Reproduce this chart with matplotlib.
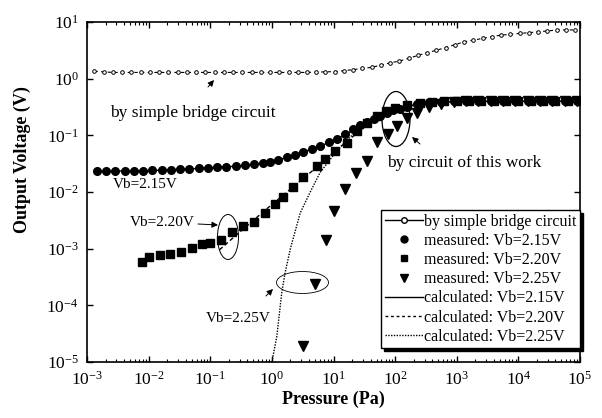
import numpy as np
import matplotlib
matplotlib.use("Agg")
import matplotlib.pyplot as plt
from matplotlib.patches import Ellipse
from matplotlib.lines import Line2D

plt.rcParams['font.family'] = ['Liberation Serif', 'DejaVu Serif']
plt.rcParams['mathtext.fontset'] = 'custom'
plt.rcParams['mathtext.rm'] = 'Liberation Serif'
plt.rcParams['mathtext.it'] = 'Liberation Serif:italic'
plt.rcParams['mathtext.bf'] = 'Liberation Serif:bold'

# ---- data (log10 values) ----
bridge_logp = [-2.88, -2.73, -2.58, -2.43, -2.28, -2.13, -1.98, -1.83, -1.68, -1.53, -1.38, -1.23,
               -1.08, -0.93, -0.78, -0.63, -0.48, -0.33, -0.18, -0.03, 0.12, 0.27, 0.42, 0.57,
               0.72, 0.87, 1.02, 1.17, 1.32, 1.47, 1.62, 1.77, 1.92, 2.07, 2.22, 2.37, 2.52,
               2.67, 2.82, 2.97, 3.12, 3.27, 3.42, 3.57, 3.72, 3.87, 4.02, 4.17, 4.32, 4.47,
               4.62, 4.77, 4.92]
bridge_logv = [0.13, 0.12, 0.11, 0.11, 0.11, 0.11, 0.11, 0.11, 0.11, 0.11, 0.11, 0.11,
               0.11, 0.11, 0.11, 0.11, 0.11, 0.11, 0.11, 0.11, 0.11, 0.11, 0.11, 0.11,
               0.115, 0.12, 0.125, 0.14, 0.16, 0.18, 0.20, 0.24, 0.28, 0.31, 0.36, 0.41, 0.46,
               0.50, 0.55, 0.60, 0.65, 0.68, 0.71, 0.74, 0.77, 0.78, 0.80, 0.81, 0.83, 0.84,
               0.86, 0.86, 0.86]

m215_logp = [-2.84, -2.69, -2.54, -2.39, -2.24, -2.09, -1.94, -1.79, -1.64, -1.49, -1.34, -1.19,
             -1.04, -0.89, -0.74, -0.59, -0.44, -0.29, -0.14, -0.03, 0.10, 0.24, 0.38, 0.51,
             0.65, 0.78, 0.92, 1.05, 1.18, 1.32, 1.43, 1.54, 1.65, 1.76, 1.87, 1.97, 2.08,
             2.19, 2.35, 2.55, 2.75, 2.95, 3.15, 3.35, 3.55, 3.75, 3.95, 4.15, 4.35, 4.55, 4.75, 4.95]
m215_logv = [-1.635, -1.635, -1.635, -1.63, -1.63, -1.625, -1.62, -1.615, -1.61, -1.60, -1.595, -1.585,
             -1.575, -1.565, -1.55, -1.54, -1.53, -1.51, -1.49, -1.47, -1.43, -1.39, -1.34, -1.29,
             -1.24, -1.18, -1.12, -1.06, -0.97, -0.88, -0.82, -0.77, -0.71, -0.65, -0.60, -0.56, -0.53,
             -0.50, -0.45, -0.42, -0.41, -0.40, -0.40, -0.40, -0.40, -0.40, -0.40, -0.40, -0.40, -0.40, -0.40, -0.40]

m220_logp = [-2.11, -1.99, -1.82, -1.65, -1.47, -1.30, -1.14, -1.00, -0.82, -0.65, -0.47, -0.29,
             -0.11, 0.05, 0.18, 0.34, 0.51, 0.73, 0.86, 1.03, 1.22, 1.38, 1.55, 1.70, 1.85, 2.0,
             2.2, 2.4, 2.6, 2.8, 3.0, 3.2, 3.4, 3.6, 3.8, 4.0, 4.2, 4.4, 4.6, 4.8, 5.0]
m220_logv = [-3.23, -3.15, -3.12, -3.09, -3.06, -2.98, -2.92, -2.90, -2.84, -2.70, -2.60, -2.53,
             -2.37, -2.22, -2.08, -1.91, -1.74, -1.54, -1.42, -1.28, -1.13, -0.93, -0.78, -0.65, -0.57, -0.52,
             -0.47, -0.43, -0.41, -0.40, -0.40, -0.40, -0.40, -0.40, -0.40, -0.40, -0.40, -0.40, -0.40, -0.40, -0.40]

m225_logp = [0.51, 0.70, 0.88, 1.01, 1.19, 1.37, 1.54, 1.71, 1.89, 2.03, 2.19, 2.36,
             2.55, 2.75, 2.95, 3.15, 3.35, 3.55, 3.75, 3.95, 4.15, 4.35, 4.55, 4.75, 4.95]
m225_logv = [-4.72, -3.63, -2.84, -2.34, -1.95, -1.67, -1.46, -1.12, -0.97, -0.83, -0.69, -0.61,
             -0.50, -0.44, -0.41, -0.40, -0.40, -0.40, -0.40, -0.40, -0.40, -0.40, -0.40, -0.40, -0.40]

c215_logp = [-2.84, -2.0, -1.2, -0.5, 0.0, 0.5, 1.0, 1.3, 1.6, 1.9, 2.2, 2.6, 3.0, 4.0, 5.0]
c215_logv = [-1.635, -1.625, -1.585, -1.54, -1.47, -1.30, -1.10, -0.92, -0.74, -0.58, -0.49, -0.42, -0.40, -0.40, -0.40]

c220_logp = [-0.85, -0.6, -0.3, 0.0, 0.3, 0.6, 0.9, 1.2, 1.5, 1.8, 2.1, 2.5, 3.0, 4.0, 5.0]
c220_logv = [-3.02, -2.78, -2.50, -2.22, -1.95, -1.68, -1.40, -1.12, -0.86, -0.64, -0.50, -0.43, -0.40, -0.40, -0.40]

c225_logp = [0.0, 0.08, 0.16, 0.21, 0.3, 0.46, 0.6, 0.78, 1.05, 1.22, 1.5, 1.8, 2.1, 2.5, 3.0, 4.0, 5.0]
c225_logv = [-5.0, -4.55, -3.78, -3.45, -3.0, -2.37, -2.05, -1.66, -1.28, -1.08, -0.80, -0.60, -0.50, -0.43, -0.40, -0.40, -0.40]

x_ticks = [1e-3, 1e-2, 1e-1, 1e0, 1e1, 1e2, 1e3, 1e4, 1e5]
y_ticks = [1e-5, 1e-4, 1e-3, 1e-2, 1e-1, 1e0, 1e1]

def p10(a):
    return np.power(10.0, np.asarray(a))

fig = plt.figure(figsize=(6.02, 4.18), dpi=100)
ax = fig.add_axes([87/602, (418-362)/418, 493/602, 340/418])

ax.plot(p10(bridge_logp), p10(bridge_logv), color='k', lw=0.8, ls=(0, (3, 3)),
        marker='o', ms=2.6, mfc='white', mec='k', mew=0.7)
ax.plot(p10(c215_logp), p10(c215_logv), color='k', lw=1.0, ls='-')
ax.plot(p10(c220_logp), p10(c220_logv), color='k', lw=1.0, ls=(0, (3, 2)))
ax.plot(p10(c225_logp), p10(c225_logv), color='k', lw=1.0, ls=(0, (1, 1)))
ax.plot(p10(m215_logp), p10(m215_logv), ls='none', marker='o', ms=5.5, color='k')
ax.plot(p10(m220_logp), p10(m220_logv), ls='none', marker='s', ms=5.5, color='k')
ax.plot(p10(m225_logp), p10(m225_logv), ls='none', marker='v', ms=6.5, color='k')

ax.set_xscale('log')
ax.set_yscale('log')
ax.set_xlim(1e-3, 1e5)
ax.set_ylim(1e-5, 1e1)
ax.set_xticks(x_ticks)
ax.set_yticks(y_ticks)
ax.yaxis.set_minor_locator(matplotlib.ticker.NullLocator())
ax.tick_params(which='both', direction='in', top=True, right=True, labelsize=12.5, pad=6)
ax.tick_params(which='major', length=4, width=1)
ax.tick_params(which='minor', length=2, width=0.8)
for s in ax.spines.values():
    s.set_linewidth(1.2)

ax.set_xlabel('Pressure (Pa)', fontsize=13, fontweight='bold', labelpad=2)
fig.text(22/602, 1 - 160/418, 'Output Voltage (V)', fontsize=13, fontweight='bold',
         rotation=90, ha='center', va='center')

# legend
handles = [
    Line2D([], [], color='k', lw=1.0, marker='o', ms=4, mfc='white', mec='k'),
    Line2D([], [], ls='none', marker='o', ms=5, color='k'),
    Line2D([], [], ls='none', marker='s', ms=5, color='k'),
    Line2D([], [], ls='none', marker='v', ms=6, color='k'),
    Line2D([], [], color='k', lw=1.0, ls='-'),
    Line2D([], [], color='k', lw=1.0, ls=(0, (2, 2))),
    Line2D([], [], color='k', lw=1.0, ls=(0, (1, 1))),
]
labels = ['by simple bridge circuit', 'measured: Vb=2.15V', 'measured: Vb=2.20V',
          'measured: Vb=2.25V', 'calculated: Vb=2.15V', 'calculated: Vb=2.20V',
          'calculated: Vb=2.25V']
leg = ax.legend(handles, labels, loc='lower right', bbox_to_anchor=(1.0, (362-348)/340),
                borderaxespad=0, fontsize=11.5, frameon=True, fancybox=False,
                shadow={'color': 'k', 'alpha': 1.0}, labelspacing=0.2, handlelength=2.4,
                handletextpad=0.1, borderpad=0.2)
leg.get_frame().set_edgecolor('k')
leg.get_frame().set_linewidth(1.0)

# annotations (in axes-fraction coordinates)
def fx(px):
    return (px - 87) / 493
def fy(py):
    return (362 - py) / 340

T = ax.transAxes
ax.text(fx(193), fy(113), 'by simple bridge circuit', transform=T, fontsize=12.5, ha='center', va='center')
ax.text(fx(464), fy(163), 'by circuit of this work', transform=T, fontsize=12.5, ha='center', va='center')
ax.text(fx(145), fy(185), 'Vb=2.15V', transform=T, fontsize=11, ha='center', va='center')
ax.text(fx(162), fy(223), 'Vb=2.20V', transform=T, fontsize=11, ha='center', va='center')
ax.text(fx(238), fy(318), 'Vb=2.25V', transform=T, fontsize=11, ha='center', va='center')

arrow = dict(arrowstyle='-|>', color='k', lw=0.7, mutation_scale=9, shrinkA=0, shrinkB=0)
ax.annotate('', xy=(fx(214), fy(80)), xytext=(fx(208), fy(87)), xycoords=T, textcoords=T, arrowprops=arrow)
ax.annotate('', xy=(fx(218), fy(225)), xytext=(fx(198), fy(224)), xycoords=T, textcoords=T, arrowprops=arrow)
ax.annotate('', xy=(fx(273), fy(289)), xytext=(fx(266), fy(296)), xycoords=T, textcoords=T, arrowprops=arrow)
ax.annotate('', xy=(fx(412), fy(137)), xytext=(fx(420), fy(144)), xycoords=T, textcoords=T, arrowprops=arrow)

ax.add_patch(Ellipse((fx(228), fy(237)), 21/493, 45/340, transform=T, fill=False, ec='k', lw=0.7))
ax.add_patch(Ellipse((fx(302.5), fy(282.5)), 52/493, 22/340, transform=T, fill=False, ec='k', lw=0.6))
ax.add_patch(Ellipse((fx(396), fy(119)), 28/493, 55/340, transform=T, fill=False, ec='k', lw=0.9))

fig.savefig('out.png', dpi=100)
